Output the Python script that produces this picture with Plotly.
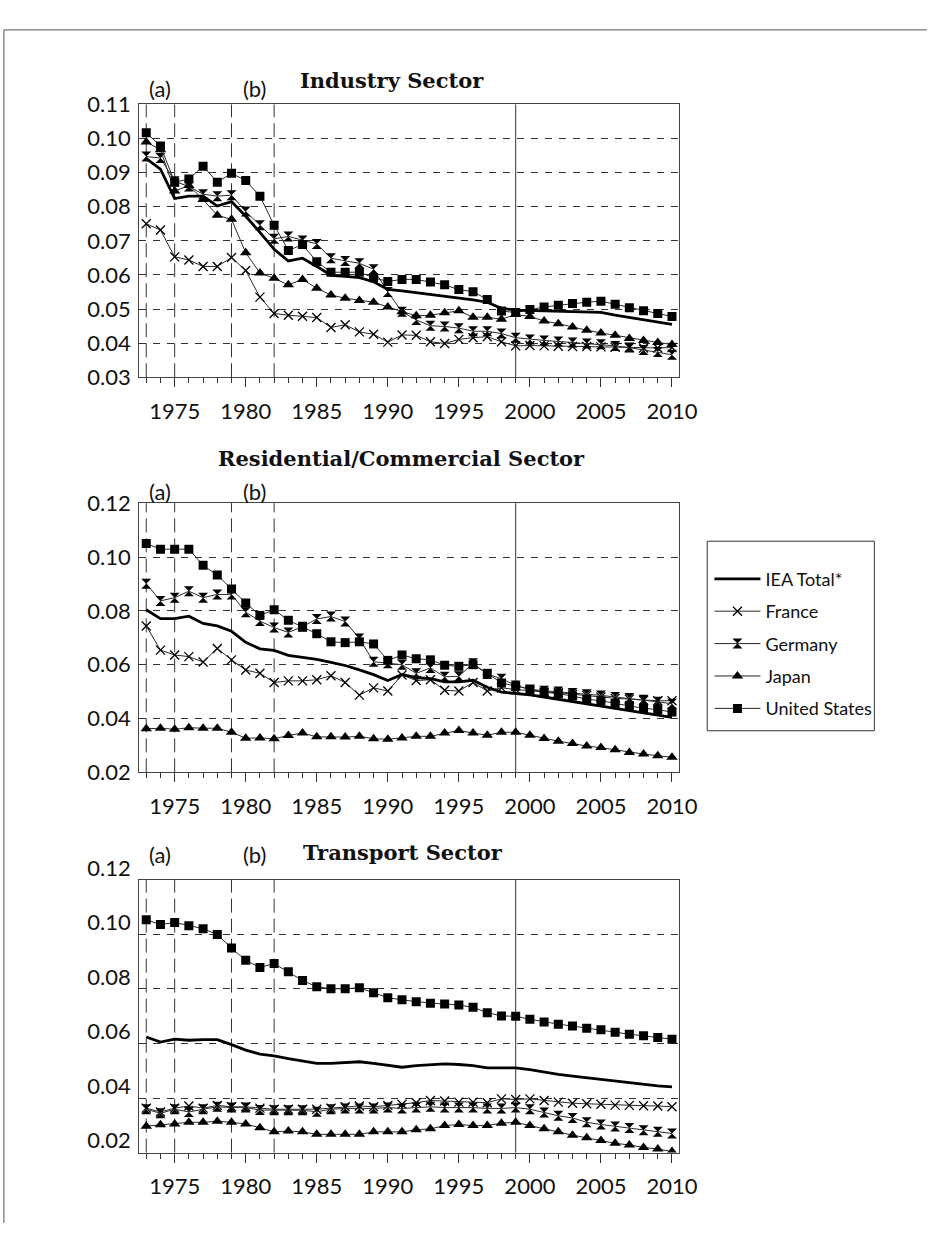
import plotly.graph_objects as go

W, H = 946, 1236

years = list(range(1973, 2011))
series_names = ["IEA Total*", "France", "Germany", "Japan", "United States"]

# Industry sector
ind_iea = [0.0941, 0.0910, 0.0824, 0.0831, 0.0831, 0.0802, 0.0815, 0.0772, 0.0725, 0.0675,
           0.0641, 0.0649, 0.0625, 0.0599, 0.0596, 0.0592, 0.0580, 0.0558, 0.0553, 0.0548,
           0.0543, 0.0539, 0.0533, 0.0527, 0.0520, 0.0502, 0.0497, 0.0496, 0.0495, 0.0494,
           0.0493, 0.0492, 0.0490, 0.0482, 0.0475, 0.0469, 0.0462, 0.0455]
ind_fra = [0.0750, 0.0732, 0.0653, 0.0644, 0.0625, 0.0625, 0.0651, 0.0613, 0.0535, 0.0487,
           0.0482, 0.0479, 0.0475, 0.0446, 0.0454, 0.0433, 0.0426, 0.0403, 0.0424, 0.0423,
           0.0404, 0.0399, 0.0411, 0.0416, 0.0419, 0.0404, 0.0392, 0.0393, 0.0392, 0.0391,
           0.0390, 0.0390, 0.0389, 0.0388, 0.0387, 0.0386, 0.0386, 0.0387]
ind_ger = [0.0947, 0.0943, 0.0875, 0.0859, 0.0837, 0.0831, 0.0834, 0.0786, 0.0746, 0.0706,
           0.0713, 0.0701, 0.0691, 0.0649, 0.0641, 0.0634, 0.0617, 0.0550, 0.0492, 0.0468,
           0.0451, 0.0449, 0.0444, 0.0435, 0.0435, 0.0428, 0.0416, 0.0411, 0.0408, 0.0405,
           0.0402, 0.0399, 0.0397, 0.0392, 0.0387, 0.0380, 0.0374, 0.0366]
ind_jpn = [0.0990, 0.0967, 0.0846, 0.0862, 0.0821, 0.0775, 0.0763, 0.0665, 0.0606, 0.0590,
           0.0571, 0.0587, 0.0561, 0.0541, 0.0532, 0.0525, 0.0520, 0.0506, 0.0492, 0.0480,
           0.0482, 0.0489, 0.0495, 0.0476, 0.0476, 0.0470, 0.0484, 0.0478, 0.0465, 0.0457,
           0.0447, 0.0438, 0.0430, 0.0423, 0.0414, 0.0408, 0.0402, 0.0396]
ind_usa = [0.1017, 0.0978, 0.0872, 0.0881, 0.0919, 0.0872, 0.0898, 0.0877, 0.0831, 0.0746,
           0.0672, 0.0689, 0.0639, 0.0608, 0.0608, 0.0608, 0.0592, 0.0581, 0.0587, 0.0587,
           0.0579, 0.0571, 0.0557, 0.0551, 0.0528, 0.0494, 0.0490, 0.0499, 0.0506, 0.0511,
           0.0516, 0.0520, 0.0523, 0.0514, 0.0504, 0.0495, 0.0487, 0.0478]

# Residential/commercial sector
res_iea = [0.0804, 0.0771, 0.0771, 0.0780, 0.0753, 0.0744, 0.0724, 0.0683, 0.0659, 0.0653,
           0.0635, 0.0627, 0.0620, 0.0609, 0.0597, 0.0581, 0.0563, 0.0541, 0.0564, 0.0552,
           0.0548, 0.0536, 0.0536, 0.0542, 0.0516, 0.0498, 0.0494, 0.0488, 0.0480, 0.0472,
           0.0463, 0.0455, 0.0446, 0.0438, 0.0429, 0.0421, 0.0412, 0.0404]
res_fra = [0.0744, 0.0654, 0.0636, 0.0630, 0.0610, 0.0660, 0.0618, 0.0580, 0.0568, 0.0534,
           0.0540, 0.0540, 0.0544, 0.0559, 0.0534, 0.0487, 0.0514, 0.0502, 0.0562, 0.0541,
           0.0544, 0.0505, 0.0502, 0.0534, 0.0502, 0.0514, 0.0508, 0.0502, 0.0498, 0.0496,
           0.0490, 0.0486, 0.0480, 0.0475, 0.0472, 0.0468, 0.0466, 0.0466]
res_ger = [0.0901, 0.0837, 0.0849, 0.0873, 0.0849, 0.0861, 0.0861, 0.0795, 0.0762, 0.0738,
           0.0720, 0.0741, 0.0770, 0.0779, 0.0760, 0.0697, 0.0611, 0.0605, 0.0600, 0.0568,
           0.0588, 0.0555, 0.0557, 0.0605, 0.0565, 0.0548, 0.0523, 0.0508, 0.0503, 0.0500,
           0.0495, 0.0490, 0.0486, 0.0480, 0.0476, 0.0470, 0.0462, 0.0455]
res_jpn = [0.0362, 0.0364, 0.0360, 0.0366, 0.0364, 0.0364, 0.0349, 0.0327, 0.0328, 0.0325,
           0.0337, 0.0346, 0.0332, 0.0332, 0.0331, 0.0334, 0.0325, 0.0323, 0.0328, 0.0334,
           0.0334, 0.0346, 0.0356, 0.0346, 0.0338, 0.0349, 0.0349, 0.0338, 0.0326, 0.0316,
           0.0307, 0.0298, 0.0292, 0.0284, 0.0274, 0.0268, 0.0262, 0.0256]
res_usa = [0.1050, 0.1029, 0.1029, 0.1029, 0.0969, 0.0933, 0.0881, 0.0829, 0.0783, 0.0804,
           0.0765, 0.0741, 0.0715, 0.0685, 0.0682, 0.0685, 0.0677, 0.0616, 0.0636, 0.0622,
           0.0618, 0.0598, 0.0594, 0.0600, 0.0568, 0.0532, 0.0520, 0.0508, 0.0498, 0.0492,
           0.0484, 0.0472, 0.0466, 0.0456, 0.0448, 0.0438, 0.0433, 0.0424]

# Transport sector
tra_iea = [0.0624, 0.0605, 0.0616, 0.0612, 0.0614, 0.0614, 0.0596, 0.0576, 0.0561, 0.0555,
           0.0545, 0.0537, 0.0527, 0.0527, 0.0531, 0.0533, 0.0527, 0.0519, 0.0513, 0.0519,
           0.0523, 0.0525, 0.0523, 0.0519, 0.0511, 0.0510, 0.0511, 0.0504, 0.0495, 0.0487,
           0.0480, 0.0474, 0.0468, 0.0462, 0.0456, 0.0450, 0.0445, 0.0441]
tra_fra = [0.0363, 0.0349, 0.0363, 0.0371, 0.0363, 0.0373, 0.0368, 0.0368, 0.0363, 0.0359,
           0.0359, 0.0359, 0.0359, 0.0363, 0.0368, 0.0371, 0.0368, 0.0373, 0.0377, 0.0383,
           0.0391, 0.0389, 0.0385, 0.0385, 0.0383, 0.0397, 0.0395, 0.0397, 0.0391, 0.0385,
           0.0381, 0.0379, 0.0377, 0.0374, 0.0373, 0.0372, 0.0371, 0.0368]
tra_ger = [0.0359, 0.0344, 0.0359, 0.0349, 0.0359, 0.0368, 0.0365, 0.0365, 0.0356, 0.0355,
           0.0355, 0.0355, 0.0350, 0.0359, 0.0362, 0.0362, 0.0362, 0.0365, 0.0362, 0.0365,
           0.0368, 0.0365, 0.0365, 0.0365, 0.0362, 0.0362, 0.0365, 0.0359, 0.0347, 0.0335,
           0.0327, 0.0311, 0.0303, 0.0296, 0.0290, 0.0282, 0.0276, 0.0270]
tra_jpn = [0.0297, 0.0302, 0.0305, 0.0311, 0.0311, 0.0315, 0.0311, 0.0305, 0.0291, 0.0276,
           0.0279, 0.0276, 0.0267, 0.0267, 0.0267, 0.0267, 0.0276, 0.0276, 0.0276, 0.0284,
           0.0287, 0.0299, 0.0303, 0.0299, 0.0299, 0.0308, 0.0311, 0.0299, 0.0287, 0.0276,
           0.0264, 0.0254, 0.0244, 0.0234, 0.0228, 0.0219, 0.0213, 0.0204]
tra_usa = [0.1054, 0.1036, 0.1044, 0.1032, 0.1021, 0.1000, 0.0950, 0.0905, 0.0879, 0.0893,
           0.0863, 0.0831, 0.0808, 0.0801, 0.0801, 0.0804, 0.0786, 0.0768, 0.0760, 0.0753,
           0.0748, 0.0745, 0.0741, 0.0733, 0.0713, 0.0701, 0.0700, 0.0689, 0.0679, 0.0671,
           0.0664, 0.0656, 0.0650, 0.0641, 0.0634, 0.0628, 0.0622, 0.0616]

panel_titles = ["Industry Sector", "Residential/Commercial Sector", "Transport Sector"]
y_ranges = [[0.03, 0.11], [0.02, 0.12], [0.02, 0.12]]
y_dticks = [0.01, 0.02, 0.02]
label_shift = [0, 0, -12]          # transport value labels sit a little above their grid lines
period_marks = [1973, 1975, 1979, 1982]
split_year = 1999
x_ticks = [1975, 1980, 1985, 1990, 1995, 2000, 2005, 2010]


# layout helpers (pixels -> paper fractions)
def px(x):
    return x / W


def py(y):
    return 1 - y / H


plot_left, plot_right = 142, 693
boxes = [(81, 362.7), (492.7, 770.7), (881.7, 1163.3)]
title_pos = [(400, 56.5), (410, 446.5), (411, 853.5)]
period_label_y = [65, 481, 856]

INK = "#111111"
LINE = "#2a2a2a"
FRAME = "#444444"
TICK_FONT = dict(family="Lato", size=22, color=INK)

styles = [
    dict(mode="lines", line=dict(color="black", width=2.8)),
    dict(mode="lines+markers", line=dict(color=LINE, width=1),
         marker=dict(symbol="x-thin", size=9, color="black", line=dict(color="black", width=1.3))),
    dict(mode="lines+markers", line=dict(color=LINE, width=1),
         marker=dict(symbol="hourglass", size=10, color="black", line=dict(width=0))),
    dict(mode="lines+markers", line=dict(color=LINE, width=1),
         marker=dict(symbol="triangle-up", size=10, color="black", line=dict(width=0))),
    dict(mode="lines+markers", line=dict(color=LINE, width=1),
         marker=dict(symbol="square", size=9, color="black", line=dict(width=0))),
]

panels = [
    [ind_iea, ind_fra, ind_ger, ind_jpn, ind_usa],
    [res_iea, res_fra, res_ger, res_jpn, res_usa],
    [tra_iea, tra_fra, tra_ger, tra_jpn, tra_usa],
]

fig = go.Figure()

for p, series in enumerate(panels):
    xa = "x" if p == 0 else f"x{p + 1}"
    ya = "y" if p == 0 else f"y{p + 1}"
    # IEA total goes last so it sits on top of the country lines
    for i in [1, 2, 3, 4, 0]:
        fig.add_trace(go.Scatter(
            x=years, y=series[i], name=series_names[i], xaxis=xa, yaxis=ya,
            legendgroup=series_names[i], legendrank=i + 1,
            showlegend=(p == 0), hoverinfo="x+y+name", **styles[i]))

shapes = []
annotations = []
for p in range(3):
    top, bottom = boxes[p]
    sfx = "" if p == 0 else str(p + 1)
    fig.layout["xaxis" + sfx] = dict(
        domain=[px(plot_left), px(plot_right)], anchor="y" + sfx,
        range=[1972.5, 2010.5], tickmode="array", tickvals=x_ticks,
        ticks="outside", ticklen=9, tickwidth=1, tickcolor="#333",
        minor=dict(tickmode="linear", tick0=1973, dtick=1, ticks="outside",
                   ticklen=5, tickwidth=1, tickcolor="#333", showgrid=False),
        showline=True, linecolor=FRAME, linewidth=1, mirror=True,
        showgrid=False, zeroline=False, tickfont=TICK_FONT,
        ticklabelstandoff=5,
    )
    fig.layout["yaxis" + sfx] = dict(
        domain=[py(bottom), py(top)], anchor="x" + sfx,
        range=y_ranges[p], tickmode="linear", tick0=y_ranges[p][0], dtick=y_dticks[p],
        tickformat=".2f", ticks="", showline=True, linecolor=FRAME, linewidth=1,
        mirror=True, showgrid=True, gridcolor="#333", gridwidth=1, griddash="7px,7px",
        zeroline=False, tickfont=TICK_FONT, ticklabelstandoff=3,
        ticklabelshift=label_shift[p],
    )

    for yr in period_marks:
        shapes.append(dict(type="line", xref="x" + sfx, yref=f"y{sfx} domain",
                           x0=yr, x1=yr, y0=0, y1=1, layer="below",
                           line=dict(color="#333", width=1, dash="14px,6px")))
    shapes.append(dict(type="line", xref="x" + sfx, yref=f"y{sfx} domain",
                       x0=split_year, x1=split_year, y0=0, y1=1, layer="below",
                       line=dict(color="#333", width=1)))

    tx, ty = title_pos[p]
    annotations.append(dict(text=f"<b>{panel_titles[p]}</b>", xref="paper", yref="paper",
                            x=px(tx), y=py(ty), xanchor="center", yanchor="middle",
                            showarrow=False,
                            font=dict(family="DejaVu Serif", size=21, color=INK)))
    for lbl, xv in (("(a)", 1974), ("(b)", 1980.6)):
        annotations.append(dict(text=lbl, xref="x" + sfx, yref="paper", x=xv,
                                y=py(period_label_y[p]), xanchor="center",
                                yanchor="middle", showarrow=False,
                                font=dict(family="Lato", size=22, color=INK)))

# legend frame
shapes.append(dict(type="rect", xref="paper", yref="paper",
                   x0=px(721.7), x1=px(892.3), y0=py(727.7), y1=py(532),
                   line=dict(color="#333", width=1), fillcolor="white", layer="below"))

# figure frame: left and top edges
shapes.append(dict(type="line", xref="paper", yref="paper",
                   x0=px(4), x1=px(4), y0=0, y1=py(4),
                   line=dict(color="#555", width=1), layer="below"))
shapes.append(dict(type="line", xref="paper", yref="paper",
                   x0=px(4), x1=1, y0=py(4), y1=py(4),
                   line=dict(color="#555", width=1), layer="below"))

fig.update_layout(
    width=W, height=H, margin=dict(l=0, r=0, t=0, b=0),
    paper_bgcolor="white", plot_bgcolor="white",
    shapes=shapes, annotations=annotations,
    showlegend=True,
    legend=dict(x=px(724), y=py(552), xanchor="left", yanchor="top",
                bgcolor="rgba(0,0,0,0)", borderwidth=0,
                font=dict(family="Lato", size=18, color=INK),
                tracegroupgap=6, itemwidth=46, traceorder="grouped"),
)

fig.write_html("out.html")
